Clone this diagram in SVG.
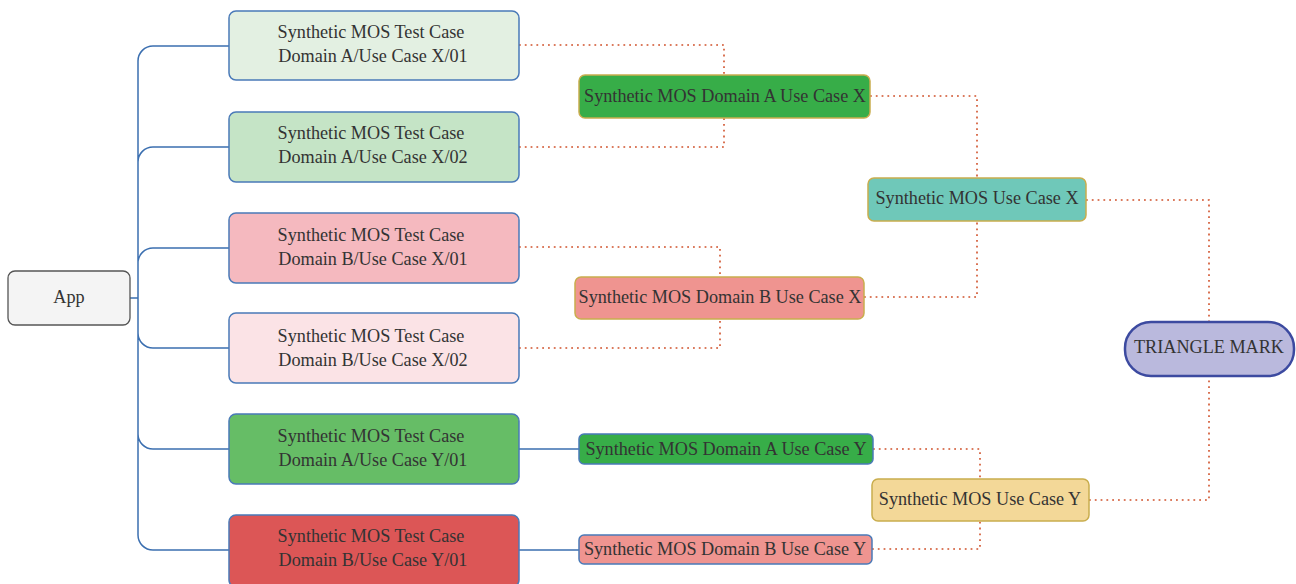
<svg xmlns="http://www.w3.org/2000/svg" width="1296" height="584" viewBox="0 0 1296 584">
<defs>
<style>
text{font-family:"Liberation Serif","DejaVu Serif",serif;fill:#333;text-anchor:middle;font-size:18.2px}
.tc{stroke:#4a7ab8;stroke-width:1.5}
.mid{stroke:#c9ad4d;stroke-width:1.5}
.midb{stroke:#4a7ab8;stroke-width:1.5}
.dot{fill:none;stroke:#d0502a;stroke-width:1.6;stroke-dasharray:1.8 4}
.solid{fill:none;stroke:#3b6fb0;stroke-width:1.5}
</style>
</defs>
<rect width="1296" height="584" fill="#fff"/>
<g id="connectors">
<path class="solid" d="M130,298 H138 M229,46 H153 A15,15 0 0 0 138,61 V535 A15,15 0 0 0 153,550 H229 M229,147 H153 A15,15 0 0 0 138,162 M229,248 H153 A15,15 0 0 0 138,263 M229,348 H153 A15,15 0 0 1 138,333 M229,449 H153 A15,15 0 0 1 138,434"/>
<path class="solid" d="M519,449 H579 M519,550 H579"/>
<path class="dot" d="M519,45 H724 V75 M519,147 H724 V118"/>
<path class="dot" d="M870,96 H977 V178 M864,297 H977 V221"/>
<path class="dot" d="M519,247 H720 V277 M519,348 H720 V319"/>
<path class="dot" d="M1086,200 H1209 V322 M1089,500 H1209 V376"/>
<path class="dot" d="M873,449 H980 V479 M872,549 H980 V519"/>
</g>
<g id="app"><rect x="8" y="271" width="122" height="54" rx="7" fill="#f4f4f4" stroke="#555" stroke-width="1.3"/><text x="69" y="303">App</text></g>
<g id="tc-a-x-01"><rect class="tc" x="229" y="11" width="290" height="69" rx="7" fill="#e3f0e2"/><text x="371" y="38">Synthetic MOS Test Case</text><text x="373" y="62">Domain A/Use Case X/01</text></g>
<g id="tc-a-x-02"><rect class="tc" x="229" y="112" width="290" height="70" rx="7" fill="#c5e4c6"/><text x="371" y="139">Synthetic MOS Test Case</text><text x="373" y="163">Domain A/Use Case X/02</text></g>
<g id="tc-b-x-01"><rect class="tc" x="229" y="213" width="290" height="70" rx="7" fill="#f5b9bf"/><text x="371" y="241">Synthetic MOS Test Case</text><text x="373" y="265">Domain B/Use Case X/01</text></g>
<g id="tc-b-x-02"><rect class="tc" x="229" y="313" width="290" height="70" rx="7" fill="#fbe3e6"/><text x="371" y="342">Synthetic MOS Test Case</text><text x="373" y="366">Domain B/Use Case X/02</text></g>
<g id="tc-a-y-01"><rect class="tc" x="229" y="414" width="290" height="70" rx="7" fill="#66bd66"/><text x="371" y="442">Synthetic MOS Test Case</text><text x="373" y="466">Domain A/Use Case Y/01</text></g>
<g id="tc-b-y-01"><rect class="tc" x="229" y="515" width="290" height="72" rx="7" fill="#dc5656"/><text x="371" y="542">Synthetic MOS Test Case</text><text x="373" y="566">Domain B/Use Case Y/01</text></g>
<g id="dom-a-x"><rect class="mid" x="579" y="75" width="291" height="43" rx="6" fill="#37ad48"/><text x="725" y="102">Synthetic MOS Domain A Use Case X</text></g>
<g id="dom-b-x"><rect class="mid" x="575" y="277" width="289" height="42" rx="6" fill="#ef9490"/><text x="720" y="303">Synthetic MOS Domain B Use Case X</text></g>
<g id="uc-x"><rect class="mid" x="868" y="178" width="218" height="43" rx="6" fill="#6fc8b9"/><text x="977" y="204">Synthetic MOS Use Case X</text></g>
<g id="dom-a-y"><rect class="midb" x="579" y="434" width="294" height="30" rx="5" fill="#37ad48"/><text x="726" y="455">Synthetic MOS Domain A Use Case Y</text></g>
<g id="dom-b-y"><rect class="midb" x="579" y="535" width="293" height="29" rx="5" fill="#ef9490"/><text x="725" y="555">Synthetic MOS Domain B Use Case Y</text></g>
<g id="uc-y"><rect class="mid" x="872" y="479" width="217" height="42" rx="6" fill="#f3d898"/><text x="980" y="505">Synthetic MOS Use Case Y</text></g>
<g id="triangle-mark"><rect x="1125" y="322" width="169" height="54" rx="26" fill="#bab9dd" stroke="#3c4aa0" stroke-width="2.5"/><text x="1209" y="353">TRIANGLE MARK</text></g>
</svg>
